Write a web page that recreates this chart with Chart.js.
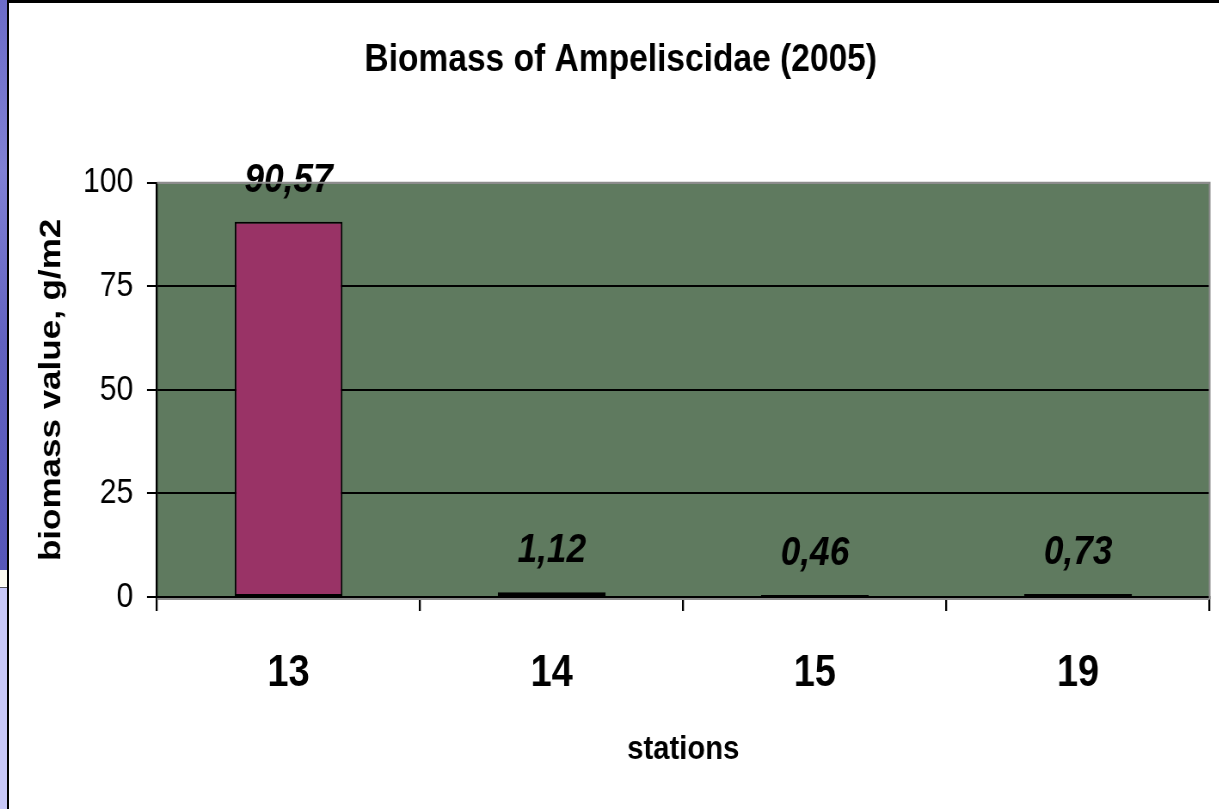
<!DOCTYPE html>
<html>
<head>
<meta charset="utf-8">
<script src="https://cdn.jsdelivr.net/npm/chart.js@4"></script>
<style>
  html, body { margin: 0; padding: 0; background: #fff; }
  #page { position: relative; width: 1219px; height: 809px; overflow: hidden; background: #fff; }
  #strip { position: absolute; left: 0; top: 0; width: 7px; height: 570px;
           background: linear-gradient(to bottom, #6c6cc8 0%, #8080d4 30%, #6262c0 60%, #5656b8 100%); }
  #strip2 { position: absolute; left: 0; top: 570px; width: 7px; height: 16px; background: #fbfaf0; }
  #strip3 { position: absolute; left: 0; top: 587px; width: 7px; height: 222px; background: #c8c8f8;
            border-top: 1px solid #555; }
  #frame { position: absolute; left: 7px; top: 0; width: 1212px; height: 809px; box-sizing: border-box;
           border-left: 2px solid #000; border-top: 3px solid #000; }
  /* narrow the whole drawing horizontally, like the Arial Narrow text of the original */
  #wrap { position: absolute; left: 0; top: 0; transform: scaleX(0.86); transform-origin: 0 0; }
</style>
</head>
<body>
<div id="page">
  <div id="strip"></div>
  <div id="strip2"></div>
  <div id="strip3"></div>
  <div id="frame"></div>
  <div id="wrap"><canvas id="biomassChart" width="1417" height="809"></canvas></div>
</div>
<script>
// data
var stations = ["13", "14", "15", "19"];
var biomass = [90.57, 1.12, 0.46, 0.73];
var yTicks = [0, 25, 50, 75, 100];

var SX = 0.86; // horizontal squeeze of the canvas
var PADL = 37; // left padding, keeps the title centred like the original
var font = "'Liberation Sans', Arial, sans-serif";

// green plot area with grey top/right edge
var plotBackground = {
    id: 'plotBackground',
    beforeDraw: function (chart) {
        var a = chart.chartArea, ctx = chart.ctx;
        ctx.save();
        ctx.fillStyle = '#5f7a5f';
        ctx.fillRect(a.left, a.top, a.right - a.left, a.bottom - a.top);
        ctx.restore();
    },
    afterDraw: function (chart) {
        var a = chart.chartArea, ctx = chart.ctx;
        ctx.save();
        ctx.strokeStyle = '#8c8c8c';
        ctx.lineWidth = 2;
        ctx.beginPath();
        ctx.moveTo(a.left, a.top);
        ctx.lineTo(a.right, a.top);
        ctx.lineTo(a.right, a.bottom + 2);
        ctx.moveTo(a.left, a.bottom + 2);
        ctx.lineTo(a.right, a.bottom + 2);
        ctx.stroke();
        ctx.restore();
    }
};

// value labels above the bars, decimal comma
var valueLabels = {
    id: 'valueLabels',
    afterDatasetsDraw: function (chart) {
        var ctx = chart.ctx;
        var meta = chart.getDatasetMeta(0);
        ctx.save();
        ctx.font = 'italic bold 41px ' + font;
        ctx.fillStyle = '#000';
        ctx.textAlign = 'center';
        ctx.textBaseline = 'alphabetic';
        meta.data.forEach(function (bar, i) {
            var txt = biomass[i].toFixed(2).replace('.', ',');
            ctx.fillText(txt, bar.x, bar.y - 30);
        });
        ctx.restore();
    }
};

new Chart(document.getElementById('biomassChart'), {
    type: 'bar',
    data: {
        labels: stations,
        datasets: [{
            label: 'biomass',
            data: biomass,
            backgroundColor: '#993366',
            borderColor: '#000',
            borderWidth: 2,
            borderSkipped: false,
            barPercentage: 0.41,
            categoryPercentage: 1
        }]
    },
    options: {
        responsive: false,
        animation: false,
        layout: { padding: { left: PADL, right: 9 / SX, top: 0, bottom: 0 } },
        plugins: {
            legend: { display: false },
            tooltip: { enabled: false },
            title: {
                display: true,
                text: 'Biomass of Ampeliscidae (2005)',
                color: '#000',
                font: { family: font, size: 39, weight: 'bold' },
                padding: { top: 37, bottom: 99 }
            }
        },
        scales: {
            x: {
                offset: true,
                grid: { display: true, drawOnChartArea: false, drawTicks: true, tickLength: 14, color: '#000', lineWidth: 2.3, offset: true },
                border: { display: true, color: '#000', width: 3 },
                ticks: { color: '#000', font: { family: font, size: 44, weight: 'bold' }, padding: 36 },
                title: {
                    display: true, text: 'stations', color: '#000',
                    font: { family: font, size: 34, weight: 'bold' },
                    padding: { top: 0, bottom: 39 }
                },
                afterFit: function (scale) { scale.height = 212; }
            },
            y: {
                min: 0,
                max: 100,
                afterBuildTicks: function (scale) {
                    scale.ticks = yTicks.map(function (v) { return { value: v }; });
                },
                grid: {
                    color: function (c) { return c.tick && c.tick.value === 100 ? '#8c8c8c' : '#000'; },
                    lineWidth: 2,
                    tickLength: 10 / SX,
                    tickColor: '#000'
                },
                border: { display: true, color: '#000', width: 2.3 },
                ticks: { color: '#000', font: { family: font, size: 35 }, padding: 16 },
                title: {
                    display: true, text: 'biomass value, g/m2', color: '#000',
                    font: { family: font, size: 35, weight: 'bold' },
                    padding: { top: 52 / SX - PADL - 21, bottom: 0 }
                },
                afterFit: function (scale) { scale.width = 157 / SX - PADL; }
            }
        }
    },
    plugins: [plotBackground, valueLabels]
});
</script>
</body>
</html>
